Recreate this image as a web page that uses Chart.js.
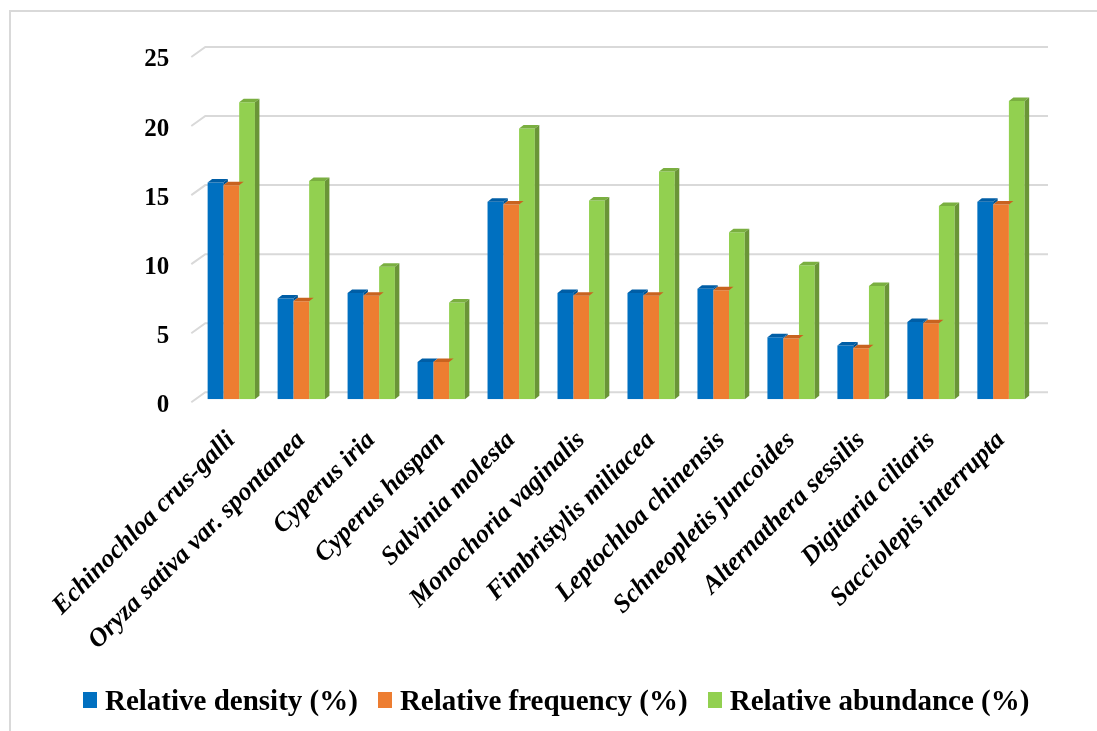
<!DOCTYPE html>
<html>
<head>
<meta charset="utf-8">
<script src="https://cdn.jsdelivr.net/npm/chart.js@4.4.1/dist/chart.umd.min.js"></script>
<style>
  html, body { margin: 0; padding: 0; background: #ffffff; }
  #wrap { position: relative; width: 1097px; height: 731px; overflow: hidden; }
  #legend {
    position: absolute; left: 83px; top: 684px; height: 32px;
    display: flex; align-items: center;
    font-family: 'Liberation Serif', 'Times New Roman', serif;
    font-weight: bold; font-size: 29px; color: #000; white-space: nowrap;
  }
  #legend .item { display: flex; align-items: center; margin-right: 20px; }
  #legend .swatch { width: 14px; height: 16px; margin-right: 8px; }
</style>
</head>
<body>
<div id="wrap">
  <canvas id="chart" width="1097" height="731"></canvas>
  <div id="legend"></div>
</div>
<script>
// Weed species surveyed
const species = [
  'Echinochloa crus-galli',
  'Oryza sativa var. spontanea',
  'Cyperus iria',
  'Cyperus haspan',
  'Salvinia molesta',
  'Monochoria vaginalis',
  'Fimbristylis miliacea',
  'Leptochloa chinensis',
  'Schneopletis juncoides',
  'Alternathera sessilis',
  'Digitaria ciliaris',
  'Sacciolepis interrupta'
];

// Series values (%)
const relativeDensity   = [15.7, 7.3, 7.7, 2.7, 14.3, 7.7, 7.7, 8.0, 4.5, 3.9, 5.6, 14.3];
const relativeFrequency = [15.5, 7.1, 7.5, 2.7, 14.1, 7.5, 7.5, 7.9, 4.4, 3.7, 5.5, 14.1];
const relativeAbundance = [21.5, 15.8, 9.6, 7.0, 19.6, 14.4, 16.5, 12.1, 9.7, 8.2, 14.0, 21.6];

const seriesNames = ['Relative density (%)', 'Relative frequency (%)', 'Relative abundance (%)'];
const yTicks = [0, 5, 10, 15, 20, 25];

// Face colours: front, top, side
const palette = [
  { front: '#0070C0', top: '#005EA6', side: '#00528F' },
  { front: '#ED7D31', top: '#C8631F', side: '#B5581B' },
  { front: '#92D050', top: '#7AAF40', side: '#6A9537' }
];

const SERIF = "'Liberation Serif', 'Times New Roman', serif";

// Pseudo-3D geometry (px)
const BAR_DX = 4.5, BAR_DY = 3.5;      // bar depth
const WALL_DX = 9, WALL_DY = 7;        // back wall behind bar plane
const FLOOR_DX = 5, FLOOR_DY = 3;      // front floor edge ahead of bar plane

const framePlugin = {
  id: 'frame3d',
  beforeDraw(chart) {
    const ctx = chart.ctx;
    ctx.save();
    ctx.strokeStyle = '#d9d9d9';
    ctx.lineWidth = 2;
    ctx.beginPath();
    ctx.moveTo(10, chart.height);
    ctx.lineTo(10, 11);
    ctx.lineTo(chart.width, 11);
    ctx.stroke();
    ctx.restore();
  },
  beforeDatasetsDraw(chart) {
    const { ctx, chartArea: a, scales: { y } } = chart;
    ctx.save();
    ctx.strokeStyle = '#d9d9d9';
    ctx.lineWidth = 2;
    yTicks.forEach(v => {
      const yPlane = y.getPixelForValue(v);
      const yBack = yPlane - WALL_DY;
      ctx.beginPath();
      ctx.moveTo(a.left - FLOOR_DX, yPlane + FLOOR_DY);
      ctx.lineTo(a.left + WALL_DX, yBack);
      ctx.lineTo(a.right + 12, yBack);
      ctx.stroke();
    });
    ctx.restore();
  },
  afterDatasetsDraw(chart) {
    const ctx = chart.ctx;
    const metas = chart.data.datasets.map((d, i) => chart.getDatasetMeta(i));
    ctx.save();
    metas.forEach((meta, di) => {
      const col = palette[di];
      meta.data.forEach((el, i) => {
        const p = el.getProps(['x', 'y', 'base', 'width'], true);
        const xl = p.x - p.width / 2, xr = p.x + p.width / 2;
        const yt = p.y, yb = p.base;
        // top face
        ctx.fillStyle = col.top;
        ctx.beginPath();
        ctx.moveTo(xl, yt);
        ctx.lineTo(xl + BAR_DX, yt - BAR_DY);
        ctx.lineTo(xr + BAR_DX, yt - BAR_DY);
        ctx.lineTo(xr, yt);
        ctx.closePath();
        ctx.fill();
        // side face: only the part not hidden by the neighbouring bar
        let yLow = yb;
        if (di < metas.length - 1) {
          const nxt = metas[di + 1].data[i].getProps(['y'], true).y;
          yLow = Math.min(yb, nxt);
        }
        if (yLow > yt) {
          ctx.fillStyle = col.side;
          ctx.beginPath();
          ctx.moveTo(xr, yt);
          ctx.lineTo(xr + BAR_DX, yt - BAR_DY);
          ctx.lineTo(xr + BAR_DX, yLow - BAR_DY);
          ctx.lineTo(xr, yLow);
          ctx.closePath();
          ctx.fill();
        }
      });
    });
    ctx.restore();
  }
};

const seriesValues = [relativeDensity, relativeFrequency, relativeAbundance];

const chart = new Chart(document.getElementById('chart'), {
  type: 'bar',
  data: {
    labels: species,
    datasets: seriesValues.map((vals, i) => ({
      label: seriesNames[i],
      data: vals,
      backgroundColor: palette[i].front,
      borderWidth: 0,
      barPercentage: 1.0,
      categoryPercentage: 0.676,
      yAxisID: 'y'
    }))
  },
  options: {
    responsive: false,
    animation: false,
    devicePixelRatio: 1,
    layout: { padding: { left: 20, right: 0, top: 54, bottom: 0 } },
    plugins: {
      tooltip: { enabled: false },
      legend: { display: false }
    },
    scales: {
      x: {
        grid: { display: false, drawTicks: false },
        border: { display: false },
        afterFit(scale) { scale.height = 331.7; },
        ticks: {
          autoSkip: false,
          minRotation: 45,
          maxRotation: 45,
          padding: 26,
          color: '#000000',
          font: { family: SERIF, size: 26, weight: 'bold', style: 'italic' }
        }
      },
      y: {
        min: 0,
        max: 25,
        position: 'left',
        grid: { display: false, drawTicks: false },
        border: { display: false },
        afterFit(scale) { scale.width = 176.3; },
        ticks: {
          stepSize: 5,
          padding: 27,
          labelOffset: 6,
          color: '#000000',
          font: { family: SERIF, size: 25, weight: 'bold' }
        }
      },
      yRight: {
        position: 'right',
        display: true,
        grid: { display: false, drawTicks: false },
        border: { display: false },
        ticks: { display: false },
        afterFit(scale) { scale.width = 61; }
      }
    }
  },
  plugins: [framePlugin]
});

// Legend built from the chart's own datasets
const legendEl = document.getElementById('legend');
chart.data.datasets.forEach(ds => {
  const item = document.createElement('span');
  item.className = 'item';
  const sw = document.createElement('span');
  sw.className = 'swatch';
  sw.style.background = ds.backgroundColor;
  const txt = document.createElement('span');
  txt.textContent = ds.label;
  item.appendChild(sw);
  item.appendChild(txt);
  legendEl.appendChild(item);
});
</script>
</body>
</html>
